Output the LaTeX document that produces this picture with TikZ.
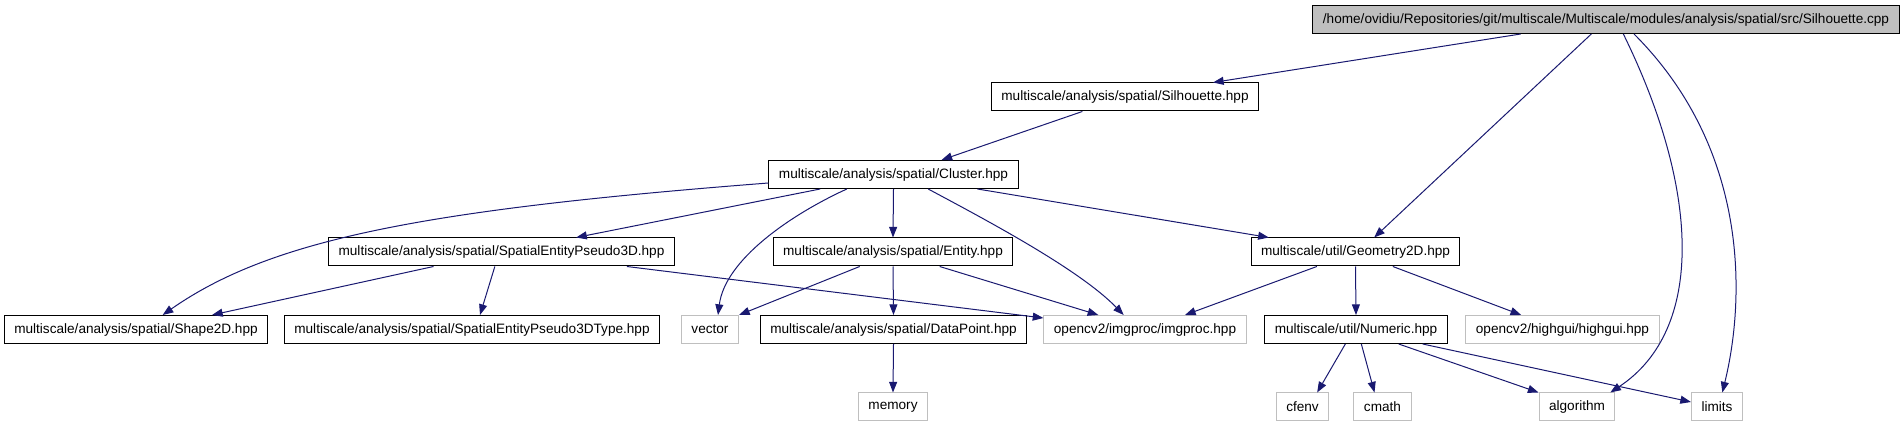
\documentclass[tikz,border=0pt]{standalone}
\usepackage{fontspec}
\setmainfont{Liberation Sans}
\usetikzlibrary{arrows.meta}
\definecolor{edgeblue}{RGB}{25,25,112}
\definecolor{sysgray}{RGB}{191,191,191}
\begin{document}
\begin{tikzpicture}[x=0.75pt, y=-0.75pt,
  file/.style={draw=black, line width=0.75pt, minimum height=21pt, inner xsep=7.5pt, inner ysep=0pt, font=\fontsize{10.2}{12}\selectfont},
  sysfile/.style={file, draw=sysgray},
  rootfile/.style={file, fill=sysgray},
  dep/.style={draw=edgeblue, line width=0.75pt, -{Triangle[length=8pt, width=6pt]}}]
\useasboundingbox (0,0) rectangle (1900,427);
\node[rootfile] (root) at (1606,19.5) {/home/ovidiu/Repositories/git/multiscale/Multiscale/modules/analysis/spatial/src/Silhouette.cpp};
\node[file] (sil) at (1125,97) {multiscale/analysis/spatial/Silhouette.hpp};
\node[file] (clu) at (893.5,174.5) {multiscale/analysis/spatial/Cluster.hpp};
\node[file] (sep) at (501.5,252) {multiscale/analysis/spatial/SpatialEntityPseudo3D.hpp};
\node[file] (ent) at (893,252) {multiscale/analysis/spatial/Entity.hpp};
\node[file] (geo) at (1355.5,252) {multiscale/util/Geometry2D.hpp};
\node[file] (shp) at (136,329.5) {multiscale/analysis/spatial/Shape2D.hpp};
\node[file] (sept) at (472,329.5) {multiscale/analysis/spatial/SpatialEntityPseudo3DType.hpp};
\node[sysfile] (vec) at (710,329.5) {vector};
\node[file] (dat) at (893.5,329.5) {multiscale/analysis/spatial/DataPoint.hpp};
\node[sysfile] (img) at (1145,329.5) {opencv2/imgproc/imgproc.hpp};
\node[file] (num) at (1356,329.5) {multiscale/util/Numeric.hpp};
\node[sysfile] (hig) at (1562.5,329.5) {opencv2/highgui/highgui.hpp};
\node[sysfile] (mem) at (893,407) {memory};
\node[sysfile] (cfe) at (1302.5,407) {cfenv};
\node[sysfile] (cma) at (1382.5,407) {cmath};
\node[sysfile] (alg) at (1577,407) {algorithm};
\node[sysfile] (lim) at (1717,407) {limits};
\draw[dep] ([xshift=-64pt]root.south) -- ([xshift=66pt]sil.north);
\draw[dep] ([xshift=-11pt]root.south) -- ([xshift=14pt]geo.north);
\draw[dep] ([xshift=13pt]root.south) .. controls (1700,190) and (1705,330) .. ([xshift=25pt]alg.north);
\draw[dep] ([xshift=21pt]root.south) .. controls (1750,150) and (1745,300) .. ([xshift=4pt]lim.north);
\draw[dep] ([xshift=-32pt]sil.south) -- ([xshift=36pt]clu.north);
\draw[dep] ([shift={(0,8.5)}]clu.west) .. controls (420,210) and (270,240) .. ([xshift=20pt]shp.north);
\draw[dep] ([xshift=-55pt]clu.south) -- ([xshift=56pt]sep.north);
\draw[dep] ([xshift=-35pt]clu.south) .. controls (790,215) and (725,260) .. ([xshift=6pt]vec.north);
\draw[dep] (clu.south) -- (ent.north);
\draw[dep] ([xshift=26pt]clu.south) .. controls (990,222) and (1080,270) .. ([xshift=-16pt]img.north);
\draw[dep] ([xshift=63pt]clu.south) -- ([xshift=-65pt]geo.north);
\draw[dep] ([xshift=-51pt]sep.south) -- ([xshift=57pt]shp.north);
\draw[dep] ([xshift=-5pt]sep.south) -- ([xshift=6pt]sept.north);
\draw[dep] ([xshift=94pt]sep.south) -- ([shift={(0,3)}]img.north west);
\draw[dep] ([xshift=-25pt]ent.south) -- (vec.north east);
\draw[dep] (ent.south) -- (dat.north);
\draw[dep] ([xshift=35pt]ent.south) -- ([xshift=-35pt]img.north);
\draw[dep] ([xshift=-29pt]geo.south) -- ([xshift=30pt]img.north);
\draw[dep] (geo.south) -- (num.north);
\draw[dep] ([xshift=28pt]geo.south) -- ([xshift=-31pt]hig.north);
\draw[dep] (dat.south) -- (mem.north);
\draw[dep] ([xshift=-8pt]num.south) -- ([xshift=11pt]cfe.north);
\draw[dep] ([xshift=4pt]num.south) -- ([xshift=-6pt]cma.north);
\draw[dep] ([xshift=32pt]num.south) -- (alg.north west);
\draw[dep] ([xshift=50pt]num.south) -- ([shift={(0,-5)}]lim.west);
\end{tikzpicture}
\end{document}
